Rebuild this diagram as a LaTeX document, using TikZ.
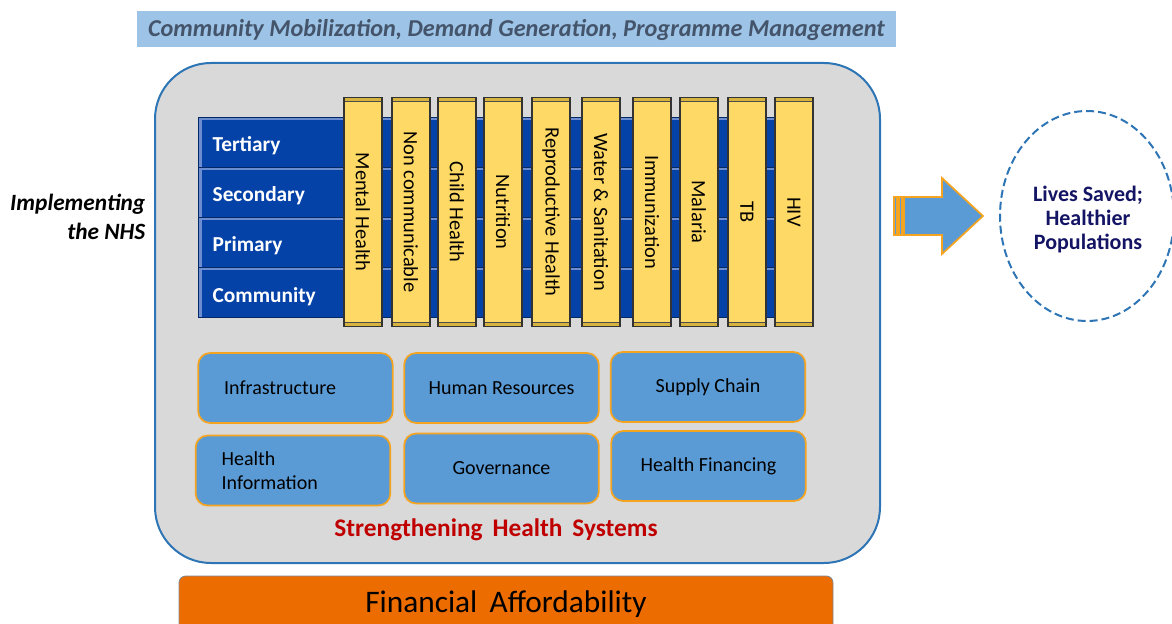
\documentclass[tikz,border=0pt]{standalone}
\usepackage{fontspec}
\setmainfont{Carlito}
\usepackage{tikz}
\usetikzlibrary{shapes.geometric}

\definecolor{bannerblue}{RGB}{157,195,230}
\definecolor{bannertext}{RGB}{68,84,106}
\definecolor{panelgray}{RGB}{217,217,217}
\definecolor{panelblue}{RGB}{46,117,182}
\definecolor{levelblue}{RGB}{4,66,168}
\definecolor{levellight}{RGB}{108,142,208}
\definecolor{progyellow}{RGB}{255,217,102}
\definecolor{progedge}{RGB}{214,178,62}
\definecolor{pillarblue}{RGB}{91,155,213}
\definecolor{pillaredge}{RGB}{244,164,32}
\definecolor{hsred}{RGB}{192,0,0}
\definecolor{affordorange}{RGB}{237,108,0}
\definecolor{outcomenavy}{RGB}{20,20,100}

\begin{document}
\begin{tikzpicture}[x=0.75pt,y=0.75pt,yscale=-1,xscale=1,
  level/.style={fill=levelblue, draw=levelblue!60!black, line width=0.6pt,
    minimum height=37.5pt, inner xsep=11pt, text width=410.75pt, align=left,
    text height=15pt, text depth=0pt,
    text=white, font=\fontsize{16}{19}\selectfont\bfseries,
    path picture={
      \fill[levellight] (path picture bounding box.north west) rectangle ([yshift=-2.5pt]path picture bounding box.north east);
      \fill[levellight] (path picture bounding box.north west) rectangle ([xshift=3pt]path picture bounding box.south west);
    }},
  programme/.style={rotate=-90, fill=progedge, draw=black!80, line width=0.8pt,
    minimum width=172pt, minimum height=28.5pt, inner sep=0pt,
    font=\fontsize{15.3}{18}\selectfont,
    path picture={
      \draw[fill=progyellow, draw=black!70, line width=0.5pt]
        ([xshift=3pt,yshift=-3pt]path picture bounding box.north west) rectangle
        ([xshift=-3pt,yshift=3pt]path picture bounding box.south east);
      \draw[black!70, line width=0.4pt]
        (path picture bounding box.north west) -- ([xshift=3pt,yshift=-3pt]path picture bounding box.north west)
        (path picture bounding box.north east) -- ([xshift=-3pt,yshift=-3pt]path picture bounding box.north east)
        (path picture bounding box.south west) -- ([xshift=3pt,yshift=3pt]path picture bounding box.south west)
        (path picture bounding box.south east) -- ([xshift=-3pt,yshift=3pt]path picture bounding box.south east);
    }},
  pillar/.style={rounded corners=9pt, fill=pillarblue, draw=pillaredge, line width=1.3pt,
    minimum width=146pt, minimum height=52.5pt, font=\fontsize{15}{18}\selectfont},
  pillarleft/.style={pillar, text width=107pt, inner xsep=19.5pt, align=left}
]
\useasboundingbox (0,0) rectangle (1172,624);

%Banner
\node [fill=bannerblue, minimum width=569pt, minimum height=27pt, inner sep=0pt,
  text height=12pt, text depth=0pt,
  text=bannertext, font=\fontsize{18.2}{20}\selectfont\bfseries\itshape] (banner) at (516.5,29)
  {Community Mobilization, Demand Generation, Programme Management};

%Rounded Rect -- health system panel
\node [fill=panelgray, draw=panelblue, line width=1.5pt, rounded corners=42pt,
  minimum width=543.75pt, minimum height=375pt] (panel) at (517.5,313) {};

%Levels of care
\node [level] (tertiary) at (486.5,142) {Tertiary};
\node [level] (secondary) at (486.5,192) {Secondary};
\node [level] (primary) at (486.5,242) {Primary};
\node [level] (community) at (486.5,292) {Community};

%Programme columns
\node [programme] (mental) at (363,212) {Mental Health};
\node [programme] (noncomm) at (411,212) {Non communicable};
\node [programme] (child) at (457,212) {Child Health};
\node [programme] (nutrition) at (503,212) {Nutrition};
\node [programme] (reproductive) at (551,212) {Reproductive Health};
\node [programme] (water) at (601,212) {Water \& Sanitation};
\node [programme] (immunization) at (652,212) {Immunization};
\node [programme] (malaria) at (699,212) {Malaria};
\node [programme] (tb) at (747,212) {TB};
\node [programme] (hiv) at (794,212) {HIV};

%System building blocks
\node [pillarleft] (infrastructure) at (295.5,388) {Infrastructure};
\node [pillar] (humanres) at (501.5,388) {Human Resources};
\node [pillar] (supply) at (708,387) {Supply Chain};
\node [pillarleft] (hinfo) at (293,470.5) {Health\\Information};
\node [pillar] (governance) at (501.5,468.5) {Governance};
\node [pillar] (hfinance) at (708.5,466) {Health Financing};

% Text Node
\node [text=hsred, font=\fontsize{19}{22}\selectfont\bfseries] (strengthening) at (496,530)
  {Strengthening\, Health\, Systems};

% Text Node
\node [anchor=east, align=right, font=\fontsize{17.5}{22}\selectfont\bfseries\itshape] (implementing) at (150,217)
  {Implementing\\the NHS};

%Financial bar
\node [fill=affordorange, draw=bannertext!70, line width=0.6pt, rounded corners=5pt,
  minimum width=490.5pt, minimum height=42pt, font=\fontsize{23.5}{27}\selectfont] (afford) at (506,604)
  {Financial\, Affordability};

%Outcome
\node [ellipse, draw=panelblue, dashed, dash pattern=on 6pt off 3pt, line width=1.5pt,
  minimum width=130.5pt, minimum height=157.5pt] (outcome) at (1087,216) {};
% Text Node
\node [align=center, text=outcomenavy, font=\fontsize{16.5}{18}\selectfont\bfseries] (outcometext) at (1088,220)
  {Lives Saved;\\Healthier\\Populations};

%Block arrow
\draw [fill=pillarblue, draw=pillaredge, line width=1.3pt, line join=miter]
  (904,197) -- (942,197) -- (942,178) -- (983,216) -- (942,254) -- (942,235) -- (904,235) -- cycle;
\draw [fill=pillarblue, draw=pillaredge, line width=1pt] (894,197) rectangle (897,235);
\draw [fill=pillarblue, draw=pillaredge, line width=1pt] (899,197) rectangle (902,235);

\end{tikzpicture}
\end{document}
